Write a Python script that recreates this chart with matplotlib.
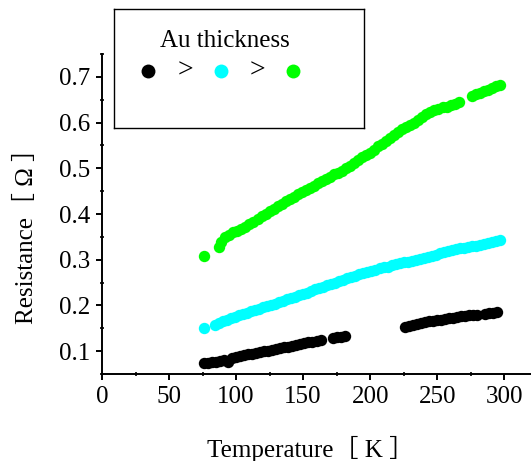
import matplotlib
matplotlib.use("Agg")
import matplotlib.pyplot as plt
from matplotlib.ticker import MultipleLocator

# ── Data ──────────────────────────────────────────────────────────────

temp_black = [76, 79, 82, 85, 88, 91, 94, 97, 100, 103, 106, 109, 112, 115, 118,
              121, 124, 127, 130, 133, 136, 139, 142, 145, 148, 151, 154, 157, 160, 163,
              172, 175, 178, 181,
              226, 229, 232, 235, 238, 241, 244, 247, 250, 253, 256, 259, 262, 265, 268,
              271, 274, 277, 280,
              286, 289, 292, 295]
res_black = [0.075, 0.075, 0.076, 0.077, 0.078, 0.080, 0.076, 0.084, 0.087, 0.089,
             0.091, 0.093, 0.094, 0.096, 0.098, 0.0995, 0.101, 0.103, 0.105, 0.106,
             0.108, 0.110, 0.112, 0.114, 0.116, 0.118, 0.119, 0.121, 0.122, 0.124,
             0.128, 0.130, 0.131, 0.133,
             0.152, 0.155, 0.158, 0.160, 0.162, 0.164, 0.165, 0.167, 0.168, 0.169,
             0.171, 0.172, 0.173, 0.175, 0.176, 0.177, 0.178, 0.179, 0.180,
             0.182, 0.183, 0.184, 0.185]

temp_cyan = [76, 84, 87, 90, 93, 96, 99, 102, 105, 108, 111, 114, 117, 120, 123,
             126, 129, 132, 135, 138, 141, 144, 147, 150, 153, 156, 159, 162, 165, 168,
             171, 174, 177, 180, 183, 186, 189, 192, 195, 198, 201, 204, 207, 210, 213,
             216, 219, 222, 225, 228, 231, 234, 237, 240, 243, 246, 249, 252, 255, 258,
             261, 264, 267, 270, 273, 276, 279, 282, 285, 288, 291, 294, 297]
res_cyan = [0.150, 0.157, 0.161, 0.165, 0.169, 0.172, 0.175, 0.178, 0.181, 0.184,
            0.187, 0.190, 0.193, 0.196, 0.199, 0.202, 0.204, 0.207, 0.210, 0.213,
            0.216, 0.219, 0.222, 0.225, 0.228, 0.232, 0.235, 0.238, 0.241, 0.244,
            0.247, 0.250, 0.253, 0.256, 0.259, 0.262, 0.265, 0.268, 0.270, 0.273,
            0.276, 0.278, 0.281, 0.283, 0.285, 0.288, 0.290, 0.292, 0.294, 0.296,
            0.298, 0.300, 0.302, 0.304, 0.306, 0.308, 0.311, 0.314, 0.317, 0.319,
            0.321, 0.323, 0.325, 0.326, 0.328, 0.330, 0.331, 0.333, 0.335, 0.337,
            0.339, 0.341, 0.344]

temp_green = [76, 87, 89, 92, 95, 98, 101, 104, 107, 110, 113, 116, 119, 122, 125,
              128, 131, 134, 137, 140, 143, 146, 149, 152, 155, 158, 161, 164, 167, 170,
              173, 176, 179, 182, 185, 188, 191, 194, 197, 200, 203, 206, 209, 212, 215,
              218, 221, 224, 227, 230, 233, 236, 239, 242, 245, 248, 251, 254, 257, 260,
              263, 266,
              276, 279, 282, 285, 288, 291, 294, 297]
res_green = [0.308, 0.327, 0.338, 0.349, 0.355, 0.360, 0.363, 0.367, 0.372, 0.378,
             0.383, 0.390, 0.396, 0.401, 0.406, 0.412, 0.417, 0.422, 0.428, 0.433,
             0.438, 0.443, 0.448, 0.452, 0.456, 0.461, 0.467, 0.472, 0.477, 0.482,
             0.487, 0.490, 0.494, 0.500, 0.506, 0.512, 0.518, 0.524, 0.529, 0.534,
             0.541, 0.548, 0.554, 0.560, 0.567, 0.573, 0.579, 0.585, 0.590, 0.595,
             0.600, 0.606, 0.612, 0.618, 0.624, 0.628, 0.630, 0.633, 0.635, 0.638,
             0.641, 0.645,
             0.658, 0.662, 0.665, 0.669, 0.672, 0.676, 0.679, 0.682]

colors = ["#000000", "#00FFFF", "#00FF00"]

# ── Figure ────────────────────────────────────────────────────────────

plt.rcParams["font.family"] = ["Liberation Serif", "Noto Sans CJK JP", "DejaVu Sans"]

W, H = 531, 461
fig = plt.figure(figsize=(W / 100, H / 100), dpi=100)
ax = fig.add_axes([102 / W, 1 - 374 / H, 429 / W, 320 / H])

for t, r, c in zip([temp_black, temp_cyan, temp_green],
                   [res_black, res_cyan, res_green], colors):
    ax.plot(t, r, "o", color=c, markersize=8.2, markeredgewidth=0, linestyle="none")

ax.set_xlim(0, 320)
ax.set_ylim(0.05, 0.75)
ax.xaxis.set_major_locator(MultipleLocator(50))
ax.xaxis.set_minor_locator(MultipleLocator(25))
ax.yaxis.set_major_locator(MultipleLocator(0.1))
ax.yaxis.set_minor_locator(MultipleLocator(0.05))
ax.set_yticks([0.1, 0.2, 0.3, 0.4, 0.5, 0.6, 0.7])

for s in ("top", "right"):
    ax.spines[s].set_visible(False)
for s in ("left", "bottom"):
    ax.spines[s].set_linewidth(1.4)

ax.tick_params(which="major", direction="out", length=4.5, width=1.4,
               labelsize=18, pad=4)
ax.tick_params(which="minor", direction="inout", length=3, width=1.2)

ax.set_xlabel("Temperature［ K ］", fontsize=18)
ax.set_ylabel("Resistance［ Ω ］", fontsize=18)
ax.xaxis.set_label_coords(0.487, -0.195)
ax.yaxis.set_label_coords(-0.15, 0.45)

# ── Legend box ────────────────────────────────────────────────────────

lg = fig.add_axes([114 / W, 1 - 128 / H, 250 / W, 119 / H])
lg.set_xlim(0, 250)
lg.set_ylim(119, 0)
lg.set_xticks([])
lg.set_yticks([])
for s in lg.spines.values():
    s.set_linewidth(1.0)
lg.text(111, 32, "Au thickness", fontsize=18, ha="center", va="center")
for x, c in zip([34, 107, 179], colors):
    lg.plot([x], [62], "o", color=c, markersize=10, markeredgewidth=0)
for x in [71, 143]:
    lg.text(x, 62, ">", fontsize=20, ha="center", va="center")

fig.savefig("out.png", dpi=100)
